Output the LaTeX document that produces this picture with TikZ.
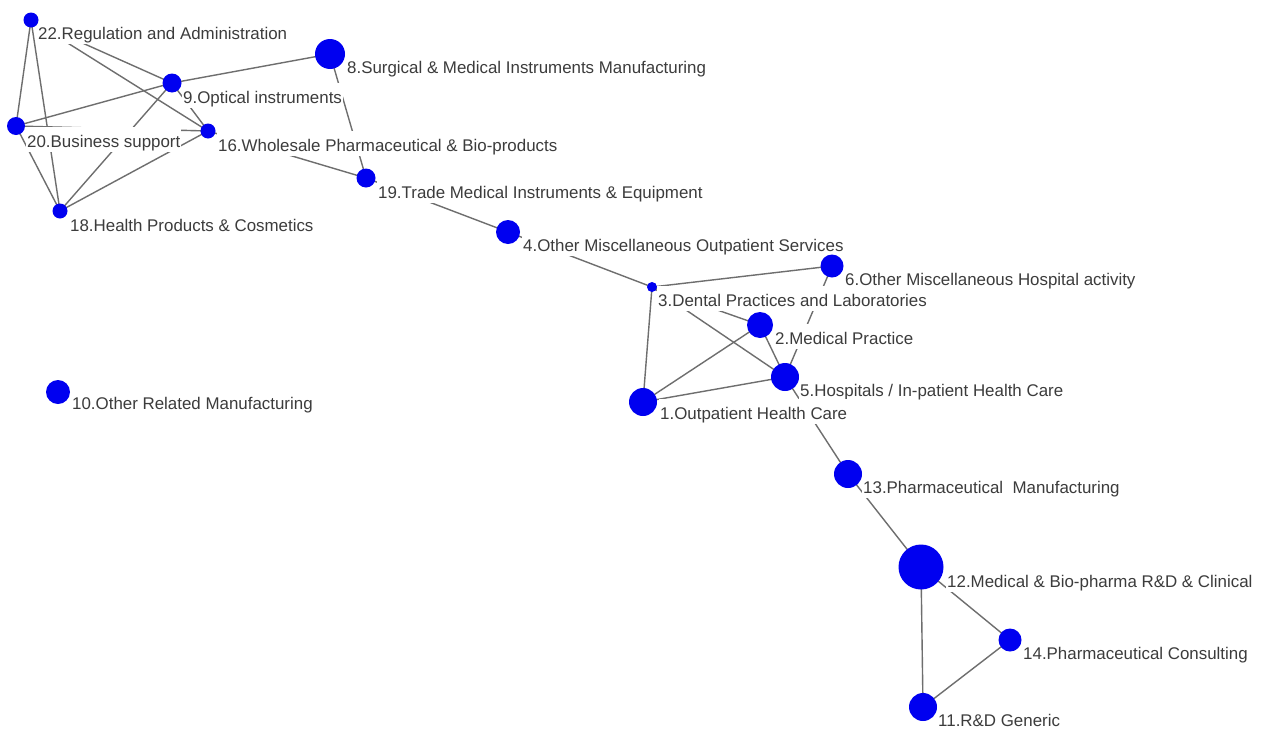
\documentclass[tikz,border=0pt]{standalone}
\usepackage{fontspec}
\setmainfont{Liberation Sans}
\definecolor{nodeblue}{RGB}{0,0,240}
\definecolor{edgegray}{RGB}{110,110,110}
\definecolor{labelgray}{RGB}{60,60,60}
\tikzset{
  vtx/.style={circle, fill=nodeblue, draw=none, inner sep=0pt, minimum size=#1},
  lbl/.style={anchor=base west, fill=white, inner xsep=1pt, inner ysep=5pt,
    text height=15pt, text depth=0pt, text=labelgray,
    font=\fontsize{16.9}{18}\selectfont},
  link/.style={draw=edgegray, line width=1.4pt}
}
\begin{document}
\begin{tikzpicture}[x=1pt,y=-1pt]
\fill[white] (0,0) rectangle (1263,731);
\useasboundingbox (0,0) rectangle (1263,731);
% vertex coordinates
\coordinate (c22) at (31,20);
\coordinate (c20) at (16,126);
\coordinate (c18) at (60,211);
\coordinate (c9) at (172,83);
\coordinate (c16) at (208,131);
\coordinate (c8) at (330,54);
\coordinate (c19) at (366,178);
\coordinate (c4) at (508,232);
\coordinate (c3) at (652,287);
\coordinate (c6) at (832,266);
\coordinate (c2) at (760,325);
\coordinate (c5) at (785,377);
\coordinate (c1) at (643,402);
\coordinate (c13) at (848,474);
\coordinate (c12) at (921,567);
\coordinate (c14) at (1010,640);
\coordinate (c11) at (923,707);
\coordinate (c10) at (58,392);
% edges
\foreach \a/\b in {22/20,22/18,22/9,22/16,20/9,20/16,20/18,9/18,9/16,16/18,9/8,8/19,16/19,19/4,4/3,3/6,3/1,3/2,3/5,1/2,1/5,2/5,6/5,5/13,13/12,12/14,12/11,14/11}
  \draw[link] (c\a) -- (c\b);
% labels
\node[lbl] (l22) at (37,39) {22.Regulation and Administration};
\node[lbl] (l20) at (26,147) {20.Business support};
\node[lbl] (l18) at (69,231) {18.Health Products \& Cosmetics};
\node[lbl] (l9) at (182,103) {9.Optical instruments};
\node[lbl] (l16) at (217,151) {16.Wholesale Pharmaceutical \& Bio-products};
\node[lbl] (l8) at (346,73) {8.Surgical \& Medical Instruments Manufacturing};
\node[lbl] (l19) at (377,198) {19.Trade Medical Instruments \& Equipment};
\node[lbl] (l4) at (522,251) {4.Other Miscellaneous Outpatient Services};
\node[lbl] (l3) at (657,306) {3.Dental Practices and Laboratories};
\node[lbl] (l6) at (844,285) {6.Other Miscellaneous Hospital activity};
\node[lbl] (l2) at (774,344) {2.Medical Practice};
\node[lbl] (l5) at (799,396) {5.Hospitals / In-patient Health Care};
\node[lbl] (l1) at (659,419) {1.Outpatient Health Care};
\node[lbl] (l13) at (862,493) {13.Pharmaceutical\ \ Manufacturing};
\node[lbl] (l12) at (946,587) {12.Medical \& Bio-pharma R\&D \& Clinical};
\node[lbl] (l14) at (1022,659) {14.Pharmaceutical Consulting};
\node[lbl] (l11) at (937,726) {11.R\&D Generic};
\node[lbl] (l10) at (71,409) {10.Other Related Manufacturing};
% vertices
\node[vtx=15pt] (n22) at (c22) {};
\node[vtx=18pt] (n20) at (c20) {};
\node[vtx=15pt] (n18) at (c18) {};
\node[vtx=19pt] (n9) at (c9) {};
\node[vtx=15pt] (n16) at (c16) {};
\node[vtx=30pt] (n8) at (c8) {};
\node[vtx=19pt] (n19) at (c19) {};
\node[vtx=24pt] (n4) at (c4) {};
\node[vtx=10pt] (n3) at (c3) {};
\node[vtx=23pt] (n6) at (c6) {};
\node[vtx=26pt] (n2) at (c2) {};
\node[vtx=28pt] (n5) at (c5) {};
\node[vtx=28pt] (n1) at (c1) {};
\node[vtx=28pt] (n13) at (c13) {};
\node[vtx=45pt] (n12) at (c12) {};
\node[vtx=23pt] (n14) at (c14) {};
\node[vtx=28pt] (n11) at (c11) {};
\node[vtx=24pt] (n10) at (c10) {};
\end{tikzpicture}
\end{document}
